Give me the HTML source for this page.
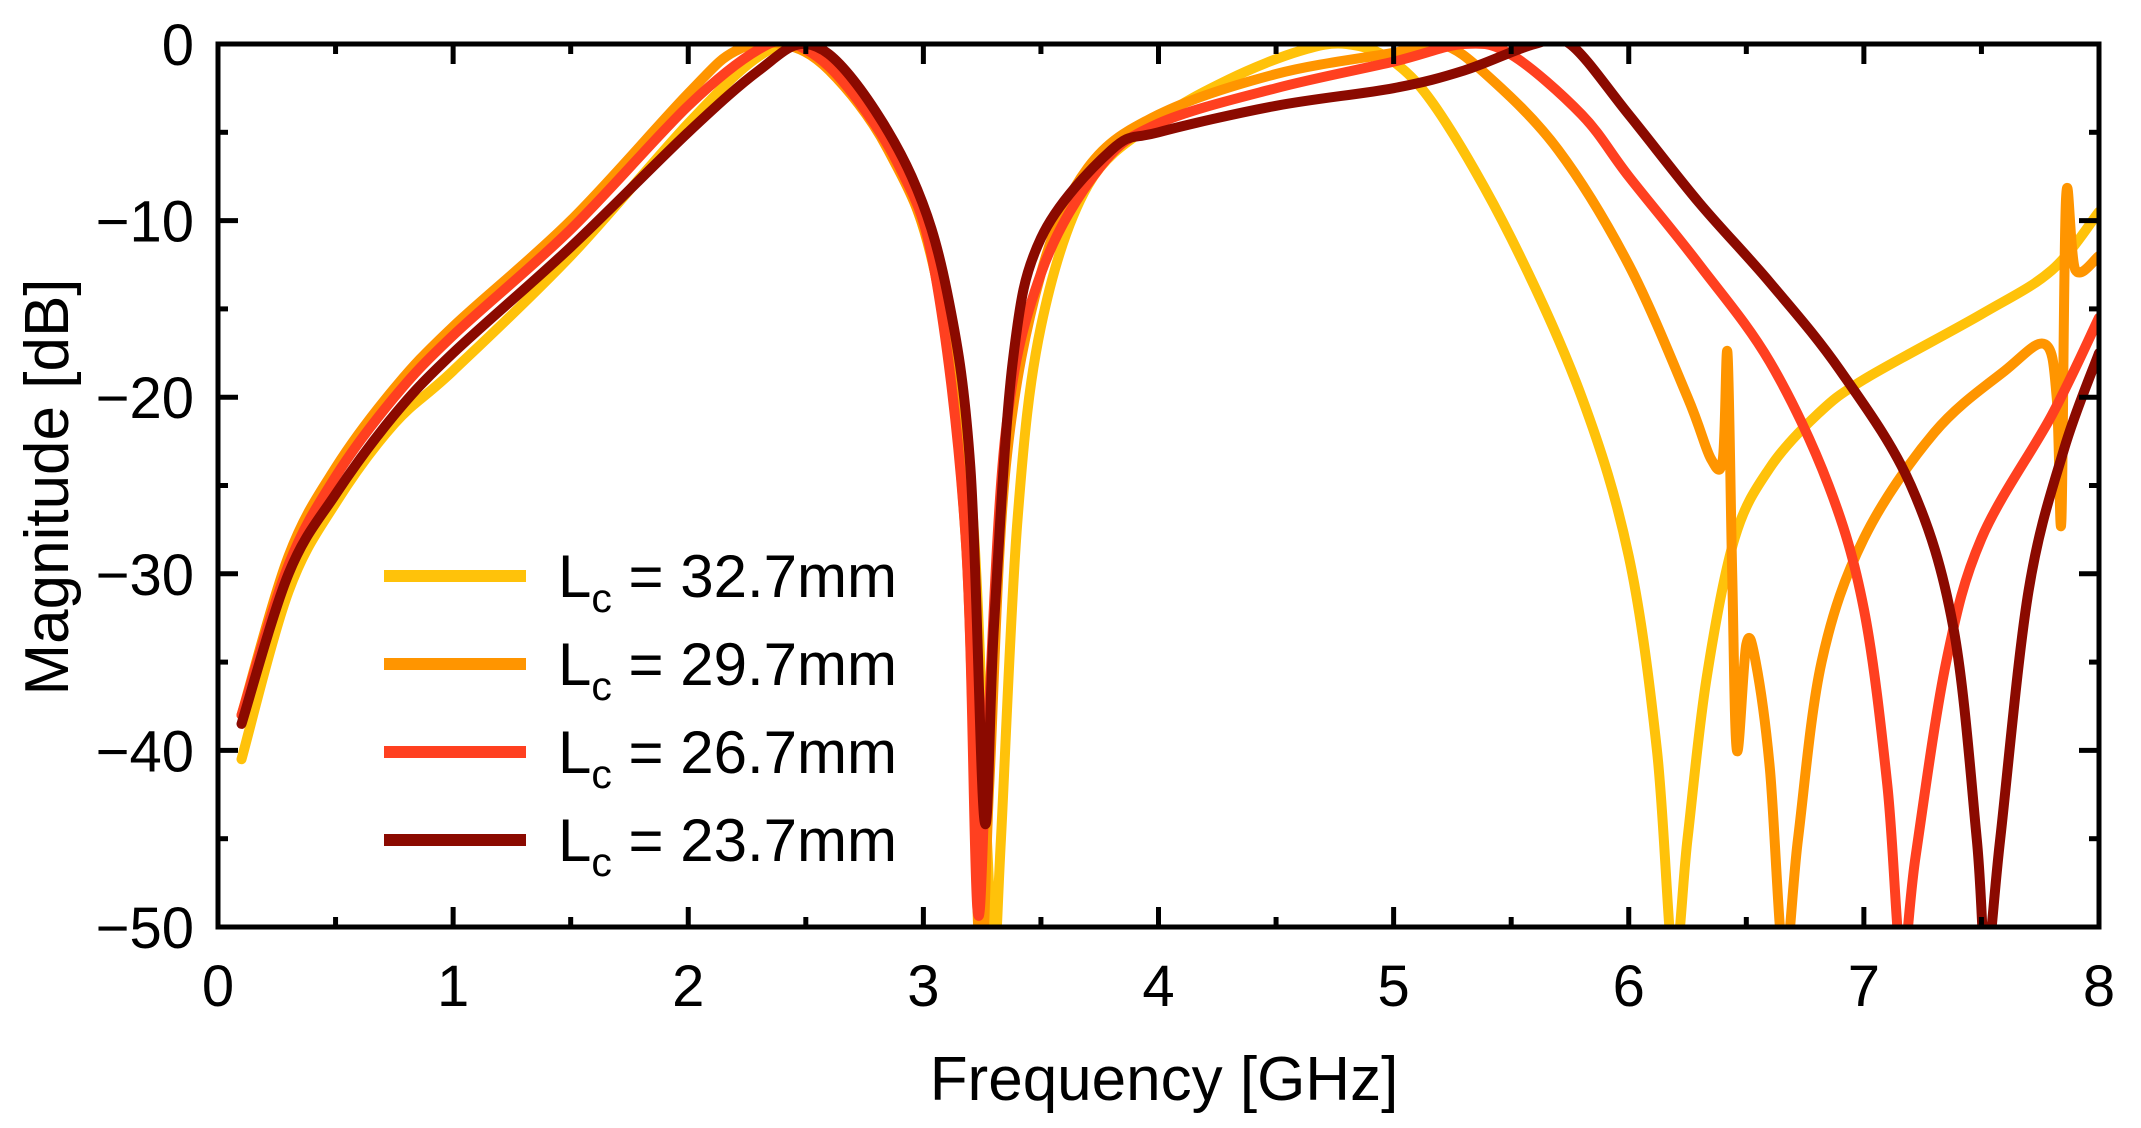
<!DOCTYPE html>
<html><head><meta charset="utf-8"><style>
html,body{margin:0;padding:0;background:#fff}
svg{display:block;font-family:"Liberation Sans",sans-serif}
</style></head><body>
<svg id="s" width="2141" height="1128" viewBox="0 0 2141 1128" xmlns="http://www.w3.org/2000/svg">
<defs><clipPath id="c"><rect x="218" y="44" width="1881" height="883"/></clipPath></defs>
<g id="curves" clip-path="url(#c)" fill="none" stroke-width="10" stroke-linejoin="round" stroke-linecap="round"></g>
<rect x="218" y="44" width="1881" height="883" fill="none" stroke="#000" stroke-width="5"/>
<g id="ticks" stroke="#000" stroke-width="5"></g>
<g id="labels" font-size="58" fill="#000"></g>
<text x="1164" y="1100" font-size="62" text-anchor="middle">Frequency [GHz]</text>
<text transform="translate(68,487) rotate(-90)" font-size="62" text-anchor="middle">Magnitude [dB]</text>
<g font-size="60">
<line x1="384" y1="576" x2="526" y2="576" stroke="#FFC20A" stroke-width="12"/>
<text x="558" y="597">L<tspan font-size="41" dy="15">c</tspan><tspan dy="-15"> = 32.7mm</tspan></text>
<line x1="384" y1="664" x2="526" y2="664" stroke="#FF9500" stroke-width="12"/>
<text x="558" y="685">L<tspan font-size="41" dy="15">c</tspan><tspan dy="-15"> = 29.7mm</tspan></text>
<line x1="384" y1="752" x2="526" y2="752" stroke="#FF4020" stroke-width="12"/>
<text x="558" y="773">L<tspan font-size="41" dy="15">c</tspan><tspan dy="-15"> = 26.7mm</tspan></text>
<line x1="384" y1="840" x2="526" y2="840" stroke="#8B0A00" stroke-width="12"/>
<text x="558" y="861">L<tspan font-size="41" dy="15">c</tspan><tspan dy="-15"> = 23.7mm</tspan></text>
</g>
</svg>
<script>
var X=function(f){return 218+f*235.125},Y=function(d){return 44-d*17.66};
var ns="http://www.w3.org/2000/svg";
var T=document.getElementById('ticks'),L=document.getElementById('labels');
function ln(x1,y1,x2,y2){var l=document.createElementNS(ns,'line');l.setAttribute('x1',x1);l.setAttribute('y1',y1);l.setAttribute('x2',x2);l.setAttribute('y2',y2);T.appendChild(l);}
function tx(x,y,s,a){var t=document.createElementNS(ns,'text');t.setAttribute('x',x);t.setAttribute('y',y);t.setAttribute('text-anchor',a);t.textContent=s;L.appendChild(t);}
for(var i=0;i<=16;i++){var x=X(i/2),len=i%2?10:20;ln(x,927,x,927-len);ln(x,44,x,44+len);if(i%2==0)tx(x,1006,String(i/2),'middle');}
for(var j=0;j<=10;j++){var y=Y(-j*5),len=j%2?10:20;ln(218,y,218+len,y);ln(2099,y,2099-len,y);if(j%2==0)tx(194,y+21,j==0?'0':'\u2212'+(j*5),'end');}
var D={
'#FFC20A':[[0.1,-40.5],[0.3,-31],[0.5,-26],[0.75,-21.5],[1,-18.5],[1.5,-12],[2,-4.5],[2.3,-0.7],[2.5,0],[2.7,-2.5],[2.9,-7],[3.05,-13],[3.2,-25],[3.27,-45],[3.3,-52],[3.33,-45],[3.4,-27],[3.5,-16],[3.7,-8],[4,-4.3],[4.3,-2],[4.6,-0.4],[4.8,0],[5,-1],[5.2,-4],[5.5,-11],[5.8,-20],[6.0,-29],[6.12,-40],[6.19,-52],[6.25,-45],[6.33,-36],[6.45,-28],[6.6,-24],[6.8,-21],[7,-19],[7.5,-15.3],[7.8,-12.8],[8,-9.5]],
'#FF9500':[[0.1,-38],[0.3,-29],[0.5,-24],[0.75,-19.5],[1,-16],[1.5,-10],[2,-2.8],[2.2,-0.4],[2.4,0],[2.6,-1.5],[2.85,-6],[3.05,-13],[3.18,-28],[3.24,-52],[3.28,-42],[3.35,-24],[3.5,-13],[3.7,-7],[4,-4],[4.5,-1.7],[5,-0.5],[5.2,0],[5.4,-1.8],[5.7,-6],[6.0,-12.5],[6.25,-20],[6.35,-23.5],[6.4,-23.5],[6.42,-17.5],[6.44,-30],[6.46,-40],[6.5,-34],[6.54,-35],[6.6,-41],[6.66,-52],[6.72,-45],[6.82,-35],[7.0,-28],[7.3,-22],[7.6,-18.5],[7.77,-17],[7.82,-20],[7.84,-27],[7.86,-8.7],[7.9,-12.8],[8,-12]],
'#FF4020':[[0.1,-38],[0.3,-29.5],[0.5,-24.5],[0.75,-20],[1,-16.5],[1.5,-10.5],[2,-3.5],[2.3,-0.3],[2.45,0],[2.65,-2],[2.9,-7],[3.05,-13],[3.18,-28],[3.23,-49],[3.27,-40],[3.35,-22],[3.5,-13],[3.75,-7],[4,-4.5],[4.5,-2.5],[5,-1],[5.3,0],[5.5,-0.6],[5.8,-4],[6.0,-7.5],[6.3,-12.5],[6.6,-18],[6.85,-25],[7.0,-32],[7.1,-42],[7.16,-52],[7.22,-46],[7.35,-35],[7.5,-28],[7.8,-21],[8,-15.5]],
'#8B0A00':[[0.1,-38.5],[0.3,-30],[0.5,-25.5],[0.75,-21],[1,-17.5],[1.5,-11.5],[2,-5],[2.3,-1.5],[2.5,0],[2.7,-2],[2.95,-7.5],[3.1,-14],[3.2,-24],[3.26,-44],[3.3,-33],[3.38,-18],[3.5,-11],[3.8,-6],[4,-5],[4.5,-3.5],[5,-2.5],[5.3,-1.5],[5.6,0],[5.75,0],[6,-4],[6.3,-9],[6.6,-13.5],[6.9,-18.5],[7.2,-25],[7.38,-33],[7.48,-45],[7.52,-52],[7.58,-45],[7.7,-31],[7.85,-23],[8,-17.5]]};
var G=document.getElementById('curves');
for(var c in D){var p=D[c],d='M'+X(p[0][0])+','+Y(p[0][1]);
for(var k=0;k<p.length-1;k++){var p0=p[Math.max(k-1,0)],p1=p[k],p2=p[k+1],p3=p[Math.min(k+2,p.length-1)];
var a=[X(p1[0])+(X(p2[0])-X(p0[0]))/6,Y(p1[1])+(Y(p2[1])-Y(p0[1]))/6],b=[X(p2[0])-(X(p3[0])-X(p1[0]))/6,Y(p2[1])-(Y(p3[1])-Y(p1[1]))/6];
d+=' C'+a[0]+','+a[1]+' '+b[0]+','+b[1]+' '+X(p2[0])+','+Y(p2[1]);}
var e=document.createElementNS(ns,'path');e.setAttribute('d',d);e.setAttribute('stroke',c);G.appendChild(e);}
</script>
</body></html>
